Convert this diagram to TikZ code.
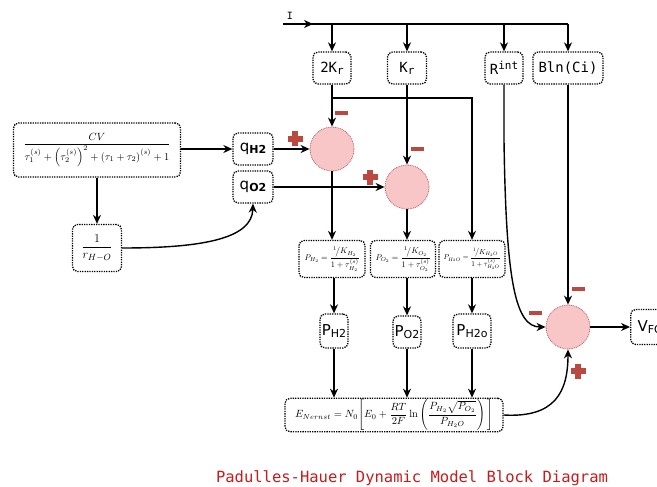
\documentclass[tikz,border=0pt]{standalone}
\usepackage{amsmath}
\usepackage{graphicx}
\usepackage{fontspec}
\usetikzlibrary{arrows.meta}
\newfontfamily\labfont{DejaVu Sans}
\newfontfamily\codefont{DejaVu Sans Mono}
\definecolor{sumfill}{RGB}{248,198,198}
\definecolor{sumedge}{RGB}{185,100,100}
\definecolor{signred}{RGB}{188,72,66}
\definecolor{titlered}{RGB}{200,28,28}
\tikzset{
  signminus/.pic={\fill[signred] (-6.5,-2.2) rectangle (6.5,2.2);},
  signplus/.pic={\fill[signred] (-7.5,-2.6) rectangle (7.5,2.6);
                 \fill[signred] (-2.6,-7.5) rectangle (2.6,7.5);}
}
\begin{document}
\begin{tikzpicture}[x=1pt,y=-1pt,line width=1.4pt,
  >={Stealth[length=9pt,width=8pt]},
  box/.style={draw, dash pattern=on 1.3pt off 1.1pt, line width=1.3pt,
    rounded corners=5pt, inner sep=1pt, align=center, fill=white},
  sumnode/.style={circle, minimum size=44pt, inner sep=0pt, fill=sumfill,
    draw=sumedge, dash pattern=on 0.9pt off 0.9pt, line width=0.8pt},
  mono/.style={font=\codefont\fontsize{14}{14}\selectfont},
  sans/.style={font=\labfont\fontsize{15}{15}\selectfont}]
\fill[white] (0,0) rectangle (657,487);
\useasboundingbox (0,0) rectangle (657,487);
\clip (0,0) rectangle (657,487);

% gain blocks on the current line
\node[box,mono,minimum width=38pt,minimum height=32pt] (k2) at (332,68) {2K\raisebox{-2pt}{\fontsize{11}{11}\selectfont r}};
\node[box,mono,minimum width=39pt,minimum height=32pt] (kr) at (407,68) {K\raisebox{-2pt}{\fontsize{11}{11}\selectfont r}};
\node[box,mono,minimum width=38pt,minimum height=32pt] (rint) at (504,68) {R\raisebox{5pt}{\fontsize{11}{11}\selectfont int}};
\node[box,mono,minimum width=70pt,minimum height=32pt] (bln) at (568,68) {Bln(Ci)};

% summing junctions
\node[sumnode] (s1) at (332,149) {};
\node[sumnode] (s2) at (407,187) {};
\node[sumnode] (s3) at (568,327) {};

% flow blocks
\node[box,minimum width=167pt,minimum height=54pt] (tf) at (97,150)
  {\resizebox{147pt}{!}{$\dfrac{CV}{\tau_1^{(s)}+\left(\tau_2^{(s)}\right)^2+\left(\tau_1+\tau_2\right)^{(s)}+1}$}};
\node[box,minimum width=49pt,minimum height=47pt] (inv) at (97,248)
  {\fontsize{13}{13}\selectfont$\dfrac{1}{r_{H-O}}$};
\node[box,sans,minimum width=40pt,minimum height=32pt] (qh) at (253,149) {q\raisebox{-2pt}{\fontsize{11}{11}\selectfont\bfseries H2}};
\node[box,sans,minimum width=40pt,minimum height=32pt] (qo) at (253,187) {q\raisebox{-2pt}{\fontsize{11}{11}\selectfont\bfseries O2}};

% partial pressure blocks
\node[box,minimum width=66pt,minimum height=37pt] (fh) at (332,259)
  {\resizebox{55pt}{!}{$P_{H_2}=\dfrac{{}^{1}\!\big/K_{H_2}}{1+\tau_{H_2}^{(s)}}$}};
\node[box,minimum width=65pt,minimum height=37pt] (fo) at (403,259)
  {\resizebox{55pt}{!}{$P_{O_2}=\dfrac{{}^{1}\!\big/K_{O_2}}{1+\tau_{O_2}^{(s)}}$}};
\node[box,minimum width=66pt,minimum height=37pt] (fw) at (472,259)
  {\resizebox{57pt}{!}{$P_{H_2O}=\dfrac{{}^{1}\!\big/K_{H_2O}}{1+\tau_{H_2O}^{(s)}}$}};

\node[box,sans,minimum width=28pt,minimum height=34pt] (ph) at (334,331) {P\raisebox{-2pt}{\fontsize{11}{11}\selectfont H2}};
\node[box,sans,minimum width=28pt,minimum height=32pt] (po) at (407,332) {P\raisebox{-2pt}{\fontsize{11}{11}\selectfont O2}};
\node[box,sans,minimum width=38pt,minimum height=34pt] (pw) at (472,331) {P\raisebox{-2pt}{\fontsize{11}{11}\selectfont H2o}};

% Nernst voltage
\node[box,minimum width=218pt,minimum height=32pt] (nern) at (394,415)
  {\resizebox{198pt}{!}{$E_{Nernst}=N_0\Bigg[E_0+\dfrac{RT}{2F}\ln\left(\dfrac{P_{H_2}\sqrt{P_{O_2}}}{P_{H_2O}}\right)\Bigg]$}};

% output
\node[box,sans,minimum width=38pt,minimum height=35pt,anchor=west] (vfc) at (630,327) {V\raisebox{-2pt}{\fontsize{11}{11}\selectfont FC}};

% current input line
\node[font=\codefont\fontsize{10}{10}\selectfont] (ilab) at (290,16) {I};
\coordinate (ibeg) at (283,24);
\coordinate (iend) at (568,24);
\draw (ibeg) -- (iend);
\draw[->] (ibeg) -- ++(30,0);
\draw[->] (k2.north |- ibeg) -- (k2.north);
\draw[->] (kr.north |- ibeg) -- (kr.north);
\draw[->] (rint.north |- ibeg) -- (rint.north);
\draw[->] (iend) -- (bln.north);

% gain outputs
\draw[->] (k2.south) -- (s1.north);
\coordinate (jn) at (332,98);
\draw[->] (jn) -| (fw.north);
\draw[->] (kr.south) -- (s2.north);

% flow paths
\draw[->] (tf.east |- qh) -- (qh.west);
\draw[->] (tf.south) -- (inv.north);
\draw[->] (inv.east) .. controls (205,248) and (252,238) .. (qo.south);
\draw[->] (qh.east) -- (s1.west);
\draw[->] (qo.east) -- (s2.west);

% to partial pressures
\draw[->] (s1.south) -- (s1.south |- fh.north);
\draw[->] (s2.south) -- (s2.south |- fo.north);
\draw[->] (fh.south -| ph) -- (ph.north);
\draw[->] (fo.south -| po) -- (po.north);
\draw[->] (fw.south -| pw) -- (pw.north);
\draw[->] (ph.south) -- (ph.south |- nern.north);
\draw[->] (po.south) -- (po.south |- nern.north);
\draw[->] (pw.south) -- (pw.south |- nern.north);

% output stage
\draw[->] (rint.south) -- (504,140) .. controls (506,280) and (515,327) .. (s3.west);
\draw[->] (bln.south) -- (s3.north);
\draw[->] (nern.east) .. controls (555,418) and (568,392) .. (s3.south);
\draw[->] (s3.east) -- (vfc.west);

% signs
\pic at (341,113) {signminus};
\pic at (295,139) {signplus};
\pic at (417,149) {signminus};
\pic at (370,177) {signplus};
\pic at (578,289) {signminus};
\pic at (535,313) {signminus};
\pic at (578,371) {signplus};

% title
\node[text=titlered,font=\codefont\fontsize{15.5}{16}\selectfont] (title) at (412,478)
  {Padulles-Hauer Dynamic Model Block Diagram};
\end{tikzpicture}
\end{document}
